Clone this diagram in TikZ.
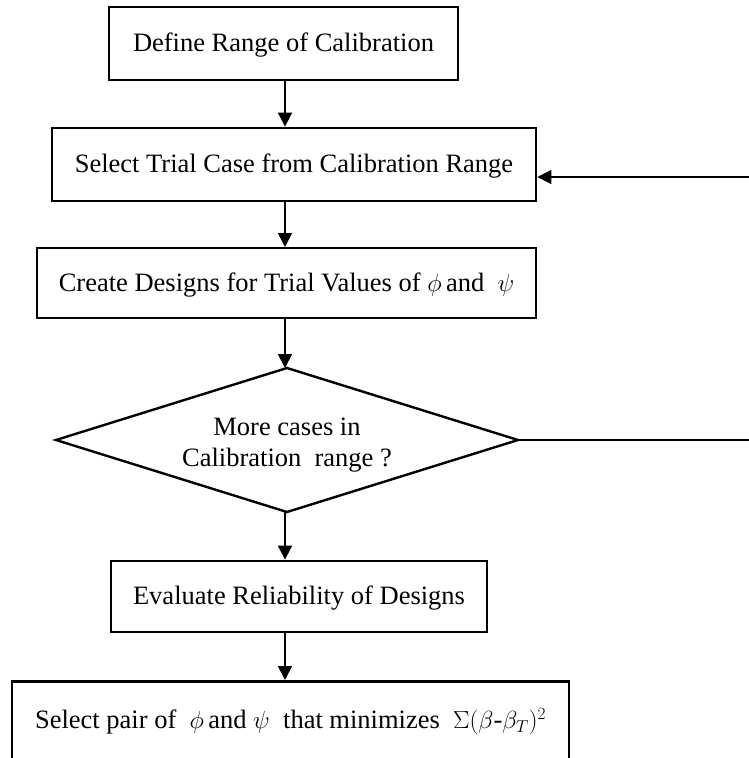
\documentclass[tikz,border=0pt]{standalone}
\usepackage{fontspec}
\setmainfont{Liberation Serif}
\usetikzlibrary{arrows.meta}
\begin{document}
\begin{tikzpicture}[x=1bp,y=-1bp,
  txt/.style={font=\fontsize{26.5bp}{31bp}\selectfont},
  box/.style={txt,draw,line width=2bp,inner sep=0pt,align=center,text height=19bp,text depth=3bp},
  thickbox/.style={box,line width=2.8bp},
  decision/.style={line width=2.4bp,line join=miter},
  arr/.style={line width=1.8bp,-{Triangle[length=14bp,width=14bp]}},
  conn/.style={line width=1.8bp}
]
\clip (0,0) rectangle (749,758);
\fill[white] (0,0) rectangle (749,758);

\node[box,minimum width=349bp,minimum height=73bp] (b1) at (283.5,43.5) {Define Range of Calibration};
\node[thickbox,minimum width=484bp,minimum height=73bp] (b2) at (294,164.5) {Select Trial Case from Calibration Range};
\node[box,minimum width=499bp,minimum height=70bp] (b3) at (286.5,283) {Create Designs for Trial Values of $\phi$\,and\ \ $\psi$};

% decision diamond
\node[txt,align=center,inner sep=0pt] (dia) at (287,445) {More cases in\\Calibration\ \ range ?};
\coordinate (dtop) at (287,368);
\coordinate (dright) at (518,440);
\coordinate (dbot) at (287,512);
\coordinate (dleft) at (56,440);
\draw[decision] (dtop) -- (dright) -- (dbot) -- (dleft) -- cycle;

\node[thickbox,minimum width=376bp,minimum height=71bp] (b4) at (299,596.5) {Evaluate Reliability of Designs};
\node[thickbox,anchor=north,minimum width=557bp,text height=47bp,text depth=80bp] (b5) at (290.5,680)
  {Select pair of\ \ $\phi$\,and\ $\psi$\ \ that minimizes\ \ $\Sigma(\beta$-$\beta_T)^2$};

\coordinate (ax) at (285,0);
\coordinate (ret) at (770,177);

\draw[arr] (ax |- b1.south) -- (ax |- b2.north);
\draw[arr] (ax |- b2.south) -- (ax |- b3.north);
\draw[arr] (ax |- b3.south) -- (ax |- dtop);
\draw[arr] (ax |- dbot) -- (ax |- b4.north);
\draw[arr] (ax |- b4.south) -- (ax |- b5.north);
\draw[conn] (dright) -- (dright -| ret) -- (ret);
\draw[arr] (ret) -- (ret -| b2.east);
\end{tikzpicture}
\end{document}
